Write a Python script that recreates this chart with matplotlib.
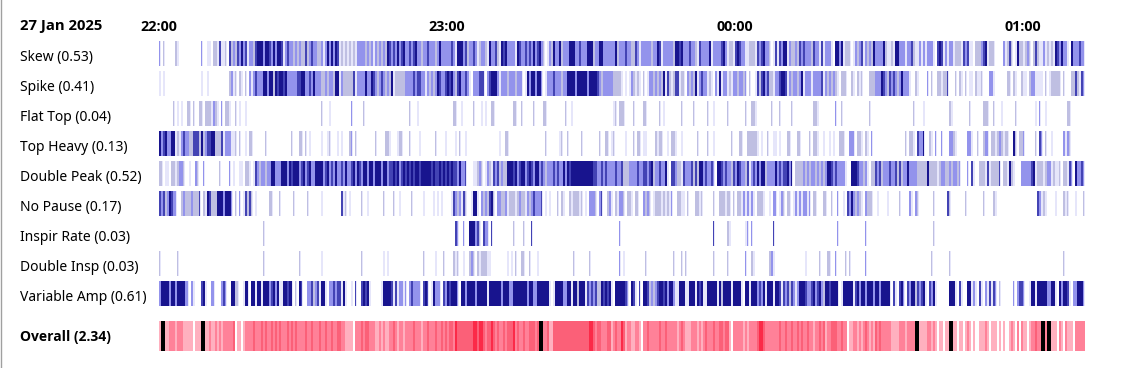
import numpy as np
import matplotlib
matplotlib.use('Agg')
import matplotlib.pyplot as plt
from matplotlib.colors import ListedColormap

plt.rcParams['font.family'] = ['Noto Sans', 'DejaVu Sans']
bold_family = ['Open Sans', 'DejaVu Sans']

# one character per 25 second cell, 0 = nothing, 5 = worst
# every row is split in four stretches of the night
stretch_cells = [116, 117, 118, 112]

date_label = '27 Jan 2025'
hour_minutes = [0, 60, 120, 180]
hour_labels = ['22:00', '23:00', '00:00', '01:00']
row_names = ['Skew', 'Spike', 'Flat Top', 'Top Heavy', 'Double Peak', 'No Pause',
             'Inspir Rate', 'Double Insp', 'Variable Amp']
row_scores = [0.53, 0.41, 0.04, 0.13, 0.52, 0.17, 0.03, 0.03, 0.61]
overall_score = 2.34

skew = [
    '3020000021 0000000000 0300110221 4112042324 3534133245 5535543535 5413433232 3224234332 2313535354 1212121213 3332323132 323254',
    '3435345334 3453323343 3323533333 4315553423 3431233215 3342154533 3315433434 3534532013 2533523335 5533433355 5233553333 3352333',
    '4332243133 3332335413 3333255453 3343321433 3351333345 3122145433 1122214345 3320141435 5132232434 3332433141 3331055351 22201323',
    '4132325333 3521121553 3313342113 1313331045 4131331222 1434110222 3451222000 0312420152 2123202421 1312121543 5331053334 33',
]
spike = [
    '1010000000 0000000000 0100100000 0000023120 2102031343 3355355254 5545333334 4553343533 3223233255 1322222413 3335335432 343232',
    '5122222333 3434433132 3235433454 5324533431 0333444034 5553133323 3323330153 5535530133 3433323355 5535555535 5554323333 3222210',
    '1013212102 0133232325 1421244122 0323251343 3121031513 3121332332 3020014245 3422133455 4132332351 3331333341 3232321022 20021021',
    '2000222333 5432434323 5333100210 0003020022 1224000202 1020110211 2000331000 0002202100 2110233111 1020122222 0200022421 43',
]
flat_top = [
    '0000000201 0100220200 2202221321 0302210020 1001000000 0000000000 0000000000 0000000000 0200010000 0000003000 0020000000 000000',
    '0000000002 0001000000 0000000000 0220010000 0200010100 2200000000 0220020000 0200002200 0000000200 1000000000 0000000000 0120222',
    '0000200002 2000000201 0000000020 0000200000 0200100000 0200000000 2002210000 0002000200 0002000000 0000221000 0000030020 00000000',
    '0000200000 0000000000 0000002000 0100000000 0000210000 0000200000 0222002000 1000000200 0000000103 0010000000 0002200000 00',
]
top_heavy = [
    '5345335512 1343322444 2523445522 2413331120 2001022000 0002000000 0000002000 2202010000 0100120001 0100023020 0000000020 000221',
    '0001220002 0000100000 0020000100 0010200100 0000000000 0000100220 0000000000 0000000200 0000120020 0000020000 0000200220 1200000',
    '1000202201 1000021220 0102210010 0000002000 0200100000 0002000220 0222221010 0200110100 0220002200 0020221001 0010100222 00333022',
    '1021030000 0000000000 0020221043 3500210300 3000332100 0003310020 0233022123 2122005202 2300000204 3020010000 0313200000 00',
]
double_peak = [
    '2201102212 3320010032 0030000000 2000030100 1102210143 2332335533 3555354555 3453453355 5534534353 3435334535 4355355355 535534',
    '4545345454 5455455555 4544545454 5443533400 0112320132 1434232255 5453455345 4355343233 3434335354 5555555555 5443343433 3343342',
    '2233334334 4345233433 5104432214 3334242553 4334305543 4332435433 2413435355 2333353434 4535022223 2323323232 3554343333 10055543',
    '3231022434 2333433424 2335333322 2225222212 3322323323 0003041002 2214122224 0221521000 3333345122 2123312112 0221430533 43',
]
no_pause = [
    '4342354330 0232223222 4021542225 5535553020 3014242010 0000022000 2000000200 0000200000 0100000000 0412010000 0200100000 002000',
    '0200100000 2000001000 0101010000 1432314200 1551032324 5203322312 2212322132 3433340101 0002021002 1222120103 3320340023 1021332',
    '0221022003 2320122212 1213002211 0200022120 0000200222 1220202213 1313102221 0010330132 0220131313 3130220002 2002003001 04353232',
    '1032220010 0001000002 0000310320 0000002000 0004200000 0020000000 0200002100 0000000000 0000000043 1210000100 0212000100 02',
]
inspir_rate = [
    '0000000000 0000000000 0000000000 0000000000 0000000000 0020000000 0000000000 0000000000 0000000000 0000000000 0000000000 000000',
    '0000000000 0000000000 0000000000 0043003005 5534204330 4000000000 0200002000 4000000000 0000000000 0000000000 0000000000 0000300',
    '0000000000 0000000000 0000000000 0000000000 0000400000 0210000000 1303000000 0000400000 0000000000 0000000000 0000003000 00000000',
    '0030000000 0000000000 0000000000 0000002000 0000000000 0000000000 0000000000 0000000000 0000000000 0000000000 0000000000 00',
]
double_insp = [
    '2000000002 0000000000 0000000000 0000000000 0000000000 0020000000 0000000000 2000000000 0100000000 0000000000 0200000000 001010',
    '0000000000 0000002000 0010002000 0212001002 3202122211 0000000010 1020022002 0001000000 0000000000 0200000002 0000000000 0000301',
    '0000000000 2000000000 0000200020 2000000000 0000200000 0200000000 3002100000 0023100000 0000000000 1000000200 0220030000 20200000',
    '0030000000 0000000000 0000000000 0000020000 0000200000 0000000000 0000000000 0000000000 0000000000 0000000000 0200000000 00',
]
variable_amp = [
    '3555535535 5553303100 0451003300 0343005522 0015505515 5155534535 1155455020 5400334234 1551033434 4151001040 0454510000 015555',
    '4141331303 4333304540 1533304354 5553055355 5535555515 5555535553 3555555535 5335555551 0155553355 1552555143 4342254545 1055555',
    '4305410405 5423234554 5355311555 1155515451 1555551525 5551555510 5515553435 1555155414 3424313555 4334534532 5545555015 55551453',
    '5535553553 5555504104 5304355243 4510435100 0000555104 1005513104 1031414302 0000003034 4300155155 5553355105 3554103355 53',
]
overall = [
    '1551122212 2211111011 1551121121 2122222301 1012222322 2323223232 3222323232 2223223222 3223223223 3221111022 2323322211 212112',
    '2321221222 2322212232 2232232323 3243333333 3443443233 4323223233 3423223223 3323552231 1333333333 3333333334 4323322233 1232243',
    '1221122102 2322222322 3222221232 1112221212 3222322332 3310222221 2122223443 2222222322 3223223232 2322122323 1223332232 20112212',
    '1232121323 2222211112 2212222551 1112212101 1011551101 1012101001 1121011101 0100121020 2110122322 5525511102 1021110222 22',
]


def cells_of(parts):
    # stick the stretches together
    return np.array([int(c) for part in parts for c in part.replace(' ', '')])


def half_cells(vals):
    # a bar with nothing after it fades out over its last half cell
    out = np.repeat(vals, 2)
    fade = np.append(vals[1:] == 0, True) & (vals > 1)
    out[1::2][fade] = 1
    return out


blues = ListedColormap(['#ffffff', '#e6e6fa', '#bfbfe2', '#9393ec', '#4343b4', '#18148e'])
reds = ListedColormap(['#ffffff', '#ffb0bf', '#ff8198', '#fb6078', '#fb2a48', '#000000'])

W, H = 1143, 368
left, right, top, bottom = 159, 1085, 41, 351
fig = plt.figure(figsize=(W / 100, H / 100), dpi=100)
ax = fig.add_axes([left / W, 1 - bottom / H, (right - left) / W, (bottom - top) / H])

rows = [skew, spike, flat_top, top_heavy, double_peak, no_pause, inspir_rate, double_insp, variable_amp]
n_cells = sum(stretch_cells)
minutes = np.arange(n_cells + 1) * 25 / 60
half_minutes = np.arange(2 * n_cells + 1) * 12.5 / 60
for i, parts in enumerate(rows):
    vals = half_cells(cells_of(parts))
    ax.pcolormesh(half_minutes, [i * 30, i * 30 + 25], vals[None, :], cmap=blues, vmin=0, vmax=5,
                  antialiased=False)
ax.pcolormesh(minutes, [280, 310], cells_of(overall)[None, :], cmap=reds, vmin=0, vmax=5, antialiased=False)

ax.set_xlim(0, minutes[-1])
ax.set_ylim(310, 0)
for s in ax.spines.values():
    s.set_visible(False)

ax.xaxis.tick_top()
ax.set_xticks(hour_minutes)
ax.set_xticklabels(hour_labels, fontweight='bold', fontsize=10.3, family=bold_family)
ax.tick_params(axis='x', length=0, pad=5)

labels = [f'{n} ({s:.2f})' for n, s in zip(row_names, row_scores)]
ax.set_yticks([i * 30 + 14.5 for i in range(9)] + [295])
ax.set_yticklabels(labels + [f'Overall ({overall_score:.2f})'], fontsize=10, ha='left')
ax.tick_params(axis='y', length=0, pad=100)
last = ax.get_yticklabels()[-1]
last.set_fontweight('bold')
last.set_family(bold_family)

fig.text(20 / W, 1 - 26 / H, date_label, fontweight='bold', fontsize=10.7, va='center', family=bold_family)

# thin grey frame at the left edge of the picture
fig.add_artist(plt.Line2D([0.5 / W, 0.5 / W], [0, 1], color='#a0a0a0', lw=1))

fig.savefig('out.png', dpi=100)
